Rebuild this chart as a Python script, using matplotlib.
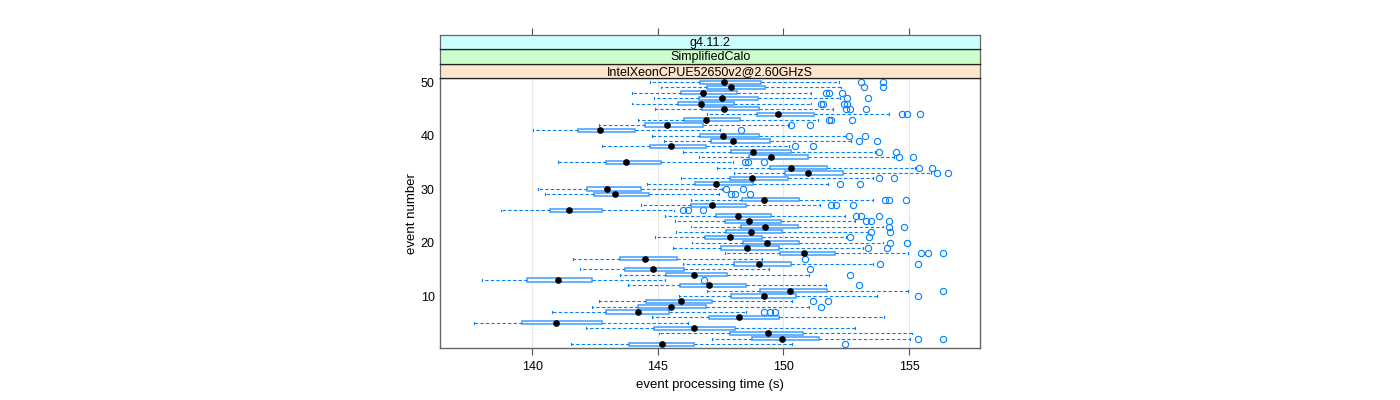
import numpy as np
import matplotlib
matplotlib.use("Agg")
import matplotlib.pyplot as plt

plt.rcParams['font.family'] = ['Liberation Sans', 'DejaVu Sans']

# boxplot statistics per event (event 1 .. 50)
events = list(range(1, 51))
whislo = [141.55, 147.15, 145.06, 142.12, 137.66, 144.75, 140.76, 142.39, 142.64, 145.83,
          146.97, 143.82, 137.99, 143.48, 141.91, 146.01, 141.61, 147.68, 145.61, 146.35,
          144.88, 145.72, 146.30, 145.67, 145.28, 138.73, 144.32, 146.31, 140.50, 140.22,
          144.55, 145.90, 148.03, 147.36, 141.00, 146.63, 145.98, 142.79, 145.25, 144.77,
          140.03, 142.67, 144.20, 146.95, 144.88, 143.96, 144.83, 143.96, 145.12, 144.69]
q1 = [143.84, 148.73, 147.87, 144.84, 139.60, 147.02, 142.93, 144.20, 144.51, 147.91,
      149.08, 145.87, 139.78, 145.31, 143.70, 148.03, 143.48, 149.86, 147.52, 148.39,
      146.88, 147.72, 148.31, 147.69, 147.30, 140.69, 146.31, 148.35, 142.46, 142.16,
      146.49, 147.87, 150.06, 149.45, 142.93, 148.62, 147.91, 144.68, 147.11, 146.67,
      141.80, 144.47, 146.04, 148.93, 146.77, 145.80, 146.63, 145.91, 146.95, 146.67]
med = [145.17, 149.93, 149.39, 146.45, 140.92, 148.24, 144.22, 145.50, 145.90, 149.24,
       150.25, 147.04, 141.00, 146.45, 144.80, 149.01, 144.48, 150.81, 148.53, 149.35,
       147.85, 148.69, 149.26, 148.64, 148.18, 141.47, 147.15, 149.24, 143.29, 142.96,
       147.32, 148.73, 150.98, 150.29, 143.74, 149.52, 148.78, 145.53, 147.99, 147.58,
       142.68, 145.36, 146.92, 149.79, 147.63, 146.70, 147.55, 146.81, 147.91, 147.63]
q3 = [146.45, 151.40, 150.77, 148.07, 142.79, 149.82, 145.42, 146.93, 147.17, 150.51,
      151.72, 148.49, 142.39, 147.74, 146.05, 150.30, 145.75, 152.06, 149.82, 150.62,
      149.15, 149.96, 150.59, 149.90, 149.52, 142.79, 148.51, 150.62, 144.64, 144.32,
      148.79, 150.18, 152.38, 151.74, 145.13, 150.96, 150.28, 146.93, 149.48, 149.01,
      144.10, 146.80, 148.28, 151.20, 149.04, 148.03, 148.98, 148.14, 149.28, 149.11]
whishi = [150.32, 155.02, 155.13, 152.86, 146.19, 154.02, 148.51, 151.03, 150.32, 153.71,
          154.95, 151.69, 145.28, 151.03, 149.41, 153.58, 149.15, 154.95, 153.16, 153.98,
          152.48, 153.37, 153.98, 152.86, 152.45, 145.63, 151.44, 153.58, 147.43, 147.57,
          151.79, 153.58, 155.87, 155.23, 147.98, 154.40, 153.65, 150.21, 152.68, 152.48,
          147.48, 150.21, 151.38, 154.20, 151.99, 151.10, 152.24, 151.10, 152.30, 152.20]
outliers = [
    [152.45], [155.35, 156.35], [], [], [], [], [149.22, 149.45, 149.68], [151.51],
    [151.17, 151.79], [155.35],
    [156.37], [153.00], [146.84], [152.64], [151.07], [153.85, 155.36], [150.84],
    [155.47, 155.74, 156.37], [153.37, 154.11], [154.24, 154.91],
    [152.64, 153.41], [153.47, 154.26], [154.22, 154.81], [153.27, 153.47, 154.22],
    [152.88, 153.10, 153.82], [146.01, 146.19, 146.81], [151.90, 152.09, 152.75],
    [154.06, 154.20, 154.88], [147.91, 148.05, 148.65], [147.73, 148.38],
    [152.27, 153.03], [153.82, 154.41], [156.12, 156.56], [155.41, 155.91],
    [148.45, 148.57, 149.22], [154.61, 155.17], [153.80, 154.47], [150.44, 151.17],
    [153.00, 153.73], [152.59, 153.25],
    [148.29], [150.30, 151.06], [151.83, 151.90, 152.71], [154.72, 154.91, 155.43],
    [152.48, 152.65, 153.27], [151.51, 151.58, 152.43, 152.52], [152.54, 153.37],
    [151.69, 151.83, 152.35], [153.20, 153.96], [153.07, 153.96],
]
strips = ["g4.11.2", "SimplifiedCalo", "IntelXeonCPUE52650v2@2.60GHzS"]
strip_colors = ["#ccffff", "#ccffcc", "#ffe5cc"]
xticks = [140, 145, 150, 155]

blue = "#0080ff"
W, H = 1400, 400
fig = plt.figure(figsize=(14, 4), dpi=100)

left, right = 440.3 / W, 980.3 / W
ax = fig.add_axes([left, (H - 348) / H, right - left, (348 - 78.3) / H])

stats = []
for i in range(len(events)):
    stats.append(dict(whislo=whislo[i], q1=q1[i], med=med[i], q3=q3[i],
                      whishi=whishi[i], fliers=outliers[i]))

ax.bxp(stats, positions=events, orientation='horizontal', widths=0.6,
       patch_artist=True, capwidths=0.35,
       boxprops=dict(facecolor="white", edgecolor="#3d9eff", linewidth=1.1),
       whiskerprops=dict(color=blue, linestyle=(0, (3, 2)), linewidth=0.8),
       capprops=dict(color=blue, linewidth=0.8),
       medianprops=dict(linewidth=0),
       flierprops=dict(marker='o', markerfacecolor='none', markeredgecolor=blue,
                       markersize=4.5, markeredgewidth=0.8))
ax.plot(med, events, 'o', color='black', markersize=3.8, zorder=5)

ax.set_xlim(136.33, 157.84)
ax.set_ylim(0.28, 50.72)
ax.set_xticks(xticks)
ax.set_yticks([10, 20, 30, 40, 50])
ax.set_yticklabels(["10", "20", "30", "40", "50"])
ax.grid(axis='x', color='#e6e6e6', linewidth=0.8, zorder=0)
ax.set_axisbelow(True)
ax.tick_params(axis='x', direction='out', length=5, color='#555555', labelsize=9, pad=4)
ax.tick_params(axis='y', length=0, labelsize=9, pad=4)
for s in ax.spines.values():
    s.set_color('#666666')
    s.set_linewidth(1.0)
ax.set_xlabel("event processing time (s)", fontsize=9.5, labelpad=5)
ax.set_ylabel("event number", fontsize=9.5, labelpad=2)

# strips on top of the panel
edges = [78.3, 63.7, 49.3, 34.7]
for k, label in enumerate(reversed(strips)):
    y_bot = edges[k]
    y_top = edges[k + 1]
    sax = fig.add_axes([left, (H - y_bot) / H, right - left, (y_bot - y_top) / H])
    sax.set_facecolor(strip_colors[len(strips) - 1 - k])
    sax.set_xlim(136.33, 157.84)
    sax.set_yticks([])
    sax.text(0.5, 0.45, label, transform=sax.transAxes, ha='center', va='center',
             fontsize=9)
    for s in sax.spines.values():
        s.set_color('#222222')
        s.set_linewidth(0.9)
    sax.spines['left'].set_color('#666666')
    sax.spines['right'].set_color('#666666')
    if k == len(strips) - 1:
        sax.set_xticks(xticks)
        sax.tick_params(axis='x', top=True, bottom=False, labeltop=False,
                        labelbottom=False, direction='out', length=5, color='#555555')
        sax.spines['top'].set_color('#666666')
    else:
        sax.set_xticks([])

fig.savefig("out.png", dpi=100)
